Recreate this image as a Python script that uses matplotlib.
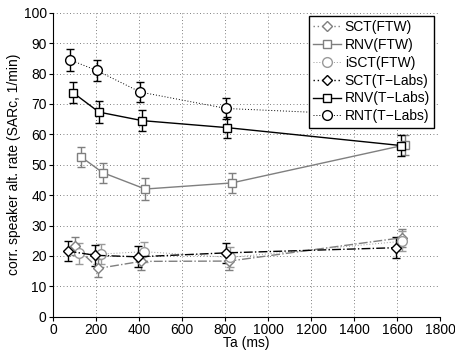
import matplotlib

matplotlib.use("Agg")
import matplotlib.pyplot as plt
from matplotlib.lines import Line2D

plt.rcParams["font.family"] = ["Liberation Sans", "DejaVu Sans"]

# Ta positions (ms), slightly offset per series as in the original
x_sct_ftw = [102, 211, 409, 820, 1625]
x_rnv_ftw = [130, 231, 429, 831, 1637]
x_isct_ftw = [119, 223, 423, 822, 1622]
x_sct_tl = [68, 195, 394, 805, 1595]
x_rnv_tl = [93, 214, 415, 809, 1619]
x_rnt_tl = [79, 203, 406, 805, 1606]

# SARc values (1/min) and error half-widths
y_sct_ftw = [23.2, 15.9, 18.2, 18.3, 26.0]
e_sct_ftw = [3.0, 3.0, 3.0, 3.0, 3.0]
y_rnv_ftw = [52.6, 47.4, 42.0, 44.0, 56.5]
e_rnv_ftw = [3.3, 3.3, 3.5, 3.3, 3.3]
y_isct_ftw = [20.8, 20.6, 21.4, 19.5, 24.8]
e_isct_ftw = [3.3, 3.3, 3.3, 3.3, 3.3]
y_sct_tl = [21.6, 20.2, 19.7, 21.0, 22.7]
e_sct_tl = [3.4, 3.4, 3.4, 3.4, 3.4]
y_rnv_tl = [73.7, 67.3, 64.5, 62.2, 56.3]
e_rnv_tl = [3.5, 3.5, 3.5, 3.5, 3.5]
y_rnt_tl = [84.5, 81.0, 73.9, 68.5, 66.0]
e_rnt_tl = [3.6, 3.6, 3.4, 3.4, 3.6]

GRAY = "#7f7f7f"
LIGHT = "#9a9a9a"
DOT = (0, (1, 2))

series = [
    ("SCT(FTW)", x_sct_ftw, y_sct_ftw, e_sct_ftw, GRAY, "-.", "D", 5.5),
    ("RNV(FTW)", x_rnv_ftw, y_rnv_ftw, e_rnv_ftw, GRAY, "-", "s", 5.5),
    ("iSCT(FTW)", x_isct_ftw, y_isct_ftw, e_isct_ftw, LIGHT, DOT, "o", 7),
    ("SCT(T\u2212Labs)", x_sct_tl, y_sct_tl, e_sct_tl, "black", "-.", "D", 5.5),
    ("RNV(T\u2212Labs)", x_rnv_tl, y_rnv_tl, e_rnv_tl, "black", "-", "s", 5.5),
    ("RNT(T\u2212Labs)", x_rnt_tl, y_rnt_tl, e_rnt_tl, "black", DOT, "o", 7),
]

fig = plt.figure(figsize=(4.56, 3.51), dpi=100)
ax = fig.add_axes([0.1162, 0.0977, 0.8488, 0.8661])

handles = []
for label, xs, ys, es, color, ls, marker, ms in series:
    lw = 0.7 if ls == DOT else 1.0
    ax.errorbar(
        xs, ys, yerr=es, color=color, linestyle=ls, linewidth=lw,
        marker=marker, markersize=ms, markerfacecolor="white",
        markeredgecolor=color, markeredgewidth=1.0,
        ecolor=color, elinewidth=1.0, capsize=3,
    )
    handles.append(Line2D(
        [], [], color=color, linestyle="-" if ls == "-" else DOT, linewidth=lw,
        marker=marker, markersize=ms, markerfacecolor="white",
        markeredgecolor=color, label=label,
    ))

ax.set_xlim(0, 1800)
ax.set_ylim(0, 100)
ax.set_xticks(range(0, 1801, 200))
ax.set_yticks(range(0, 101, 10))
ax.grid(True, linestyle=(0, (1, 3)), color="#555555", linewidth=0.6)
ax.set_axisbelow(True)
for side in ("top", "right"):
    ax.spines[side].set_visible(False)
ax.tick_params(axis="both", labelsize=10, direction="out", length=3, pad=1.5)
ax.set_xlabel("Ta (ms)", fontsize=10, labelpad=-1)
ax.set_ylabel("corr. speaker alt. rate (SARc, 1/min)", fontsize=10, labelpad=2)

leg = ax.legend(
    handles=handles, loc="upper right", bbox_to_anchor=(0.985, 0.99), fontsize=10,
    frameon=True, fancybox=False, framealpha=1, edgecolor="black",
    handlelength=2.0, handletextpad=0.3, labelspacing=0.28,
    borderpad=0.3, borderaxespad=0.0,
)
leg.get_frame().set_linewidth(1.0)

fig.savefig("out.png", dpi=100)
